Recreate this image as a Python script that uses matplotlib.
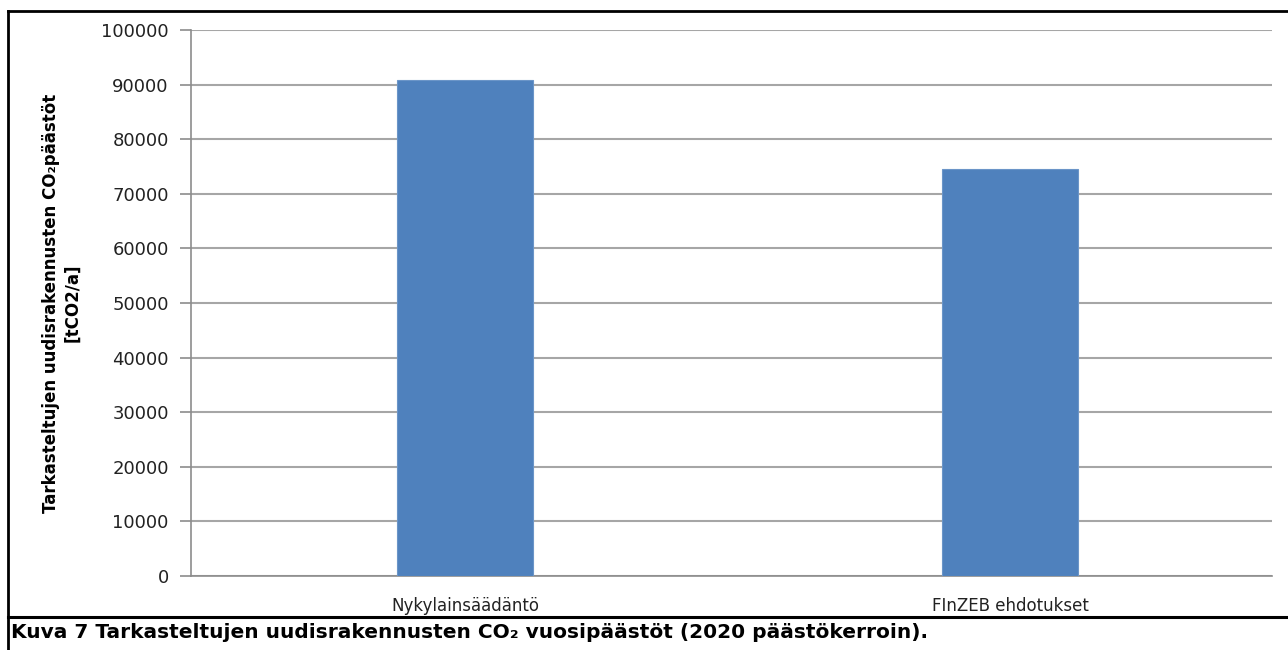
import matplotlib.pyplot as plt
from matplotlib.lines import Line2D

categories = ['Nykylainsäädäntö', 'FInZEB ehdotukset']
emissions = [90800, 74500]
yticks = [0, 10000, 20000, 30000, 40000, 50000, 60000, 70000, 80000, 90000, 100000]

W, H = 1288, 650
fig = plt.figure(figsize=(W / 100, H / 100), dpi=100)
ax = fig.add_axes([191 / W, 1 - 576 / H, (1272 - 191) / W, (576 - 30) / H])

x = range(len(categories))
ax.bar(x, emissions, width=0.25, color='#4F81BD', edgecolor='#6b95c8', linewidth=0.8, zorder=3)

ax.set_xlim(-0.503, 1.48)
ax.set_ylim(0, 100000)
ax.set_yticks(yticks)
ax.set_yticklabels([str(v) for v in yticks], fontsize=13, color='#222222')
ax.set_xticks(list(x))
ax.set_xticklabels(categories, fontsize=12, color='#222222')
ax.tick_params(axis='x', length=0, pad=15)
ax.tick_params(axis='y', length=8, width=1.2, color='#8c8c8c', pad=8)
ax.yaxis.grid(True, color='#a6a6a6', linewidth=1.5, zorder=0)

for side in ['top', 'right']:
    ax.spines[side].set_visible(False)
for side in ['left', 'bottom']:
    ax.spines[side].set_color('#8c8c8c')
    ax.spines[side].set_linewidth(1.2)

ax.set_ylabel('Tarkasteltujen uudisrakennusten CO\u2082päästöt\n[tCO2/a]',
              fontsize=12, fontweight='bold', labelpad=14, linespacing=1.25)

# frame around the chart
fig.add_artist(Line2D([8 / W, 8 / W], [1 - 11 / H, 0], color='black', lw=2, transform=fig.transFigure))
fig.add_artist(Line2D([8 / W, 1], [1 - 11 / H, 1 - 11 / H], color='black', lw=2, transform=fig.transFigure))
fig.add_artist(Line2D([8 / W, 1], [1 - 617 / H, 1 - 617 / H], color='black', lw=2.2, transform=fig.transFigure))

fig.text(11 / W, 1 - 632 / H,
         'Kuva 7 Tarkasteltujen uudisrakennusten CO\u2082 vuosipäästöt (2020 päästökerroin).',
         fontsize=14.5, fontweight='bold', ha='left', va='center')

fig.savefig('out.png', dpi=100)
